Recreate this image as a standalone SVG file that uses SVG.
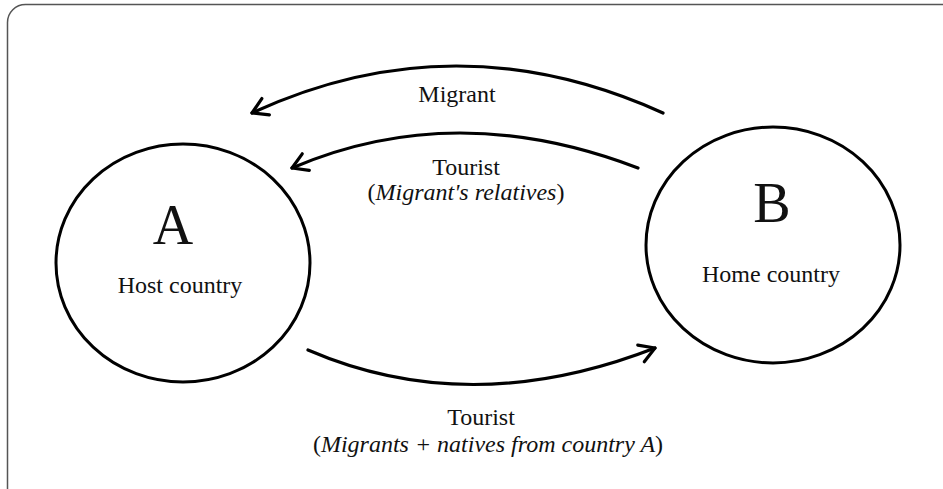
<svg xmlns="http://www.w3.org/2000/svg" width="943" height="489" viewBox="0 0 943 489">
  <style>
    .frame { fill: #fff; stroke: #555; stroke-width: 1.5; }
    .node { fill: none; stroke: #000; stroke-width: 3; }
    .flow { fill: none; stroke: #000; stroke-width: 3.2; stroke-linecap: round; }
    .lbl { font-family: "Liberation Serif", "Times New Roman", serif; fill: #111; text-anchor: middle; }
    .big { font-size: 56px; }
    .mid { font-size: 24px; }
    .it { font-style: italic; }
  </style>
  <defs>
    <marker id="chev" markerUnits="userSpaceOnUse" markerWidth="30" markerHeight="30" viewBox="-20 -15 30 30" refX="0" refY="0" orient="auto">
      <path d="M-15,-9 L0,0 L-15,9" fill="none" stroke="#000" stroke-width="3.2" stroke-linecap="round" stroke-linejoin="round"/>
    </marker>
  </defs>
  <rect width="943" height="489" fill="#fff"/>
  <rect class="frame" x="7.5" y="4.5" width="960" height="510" rx="18"/>

  <g id="connectors">
    <path class="flow" d="M663,113 Q455,19 252,113" marker-end="url(#chev)"/>
    <path class="flow" d="M638,168 Q455,98 292,168" marker-end="url(#chev)"/>
    <path class="flow" d="M308,350 Q470,420 655,348" marker-end="url(#chev)"/>
    <text class="lbl mid" x="457" y="102">Migrant</text>
    <text class="lbl mid" x="466" y="175">Tourist</text>
    <text class="lbl mid" x="466" y="200">(<tspan class="it">Migrant's relatives</tspan>)</text>
    <text class="lbl mid" x="481" y="425">Tourist</text>
    <text class="lbl mid" x="488" y="452">(<tspan class="it">Migrants + natives from country A</tspan>)</text>
  </g>

  <g id="nodeA">
    <ellipse class="node" cx="183" cy="263" rx="127" ry="119"/>
    <text class="lbl big" x="173" y="244">A</text>
    <text class="lbl mid" x="180" y="293">Host country</text>
  </g>

  <g id="nodeB">
    <ellipse class="node" cx="773" cy="245" rx="127" ry="118"/>
    <text class="lbl big" x="772" y="222">B</text>
    <text class="lbl mid" x="771" y="282">Home country</text>
  </g>
</svg>
